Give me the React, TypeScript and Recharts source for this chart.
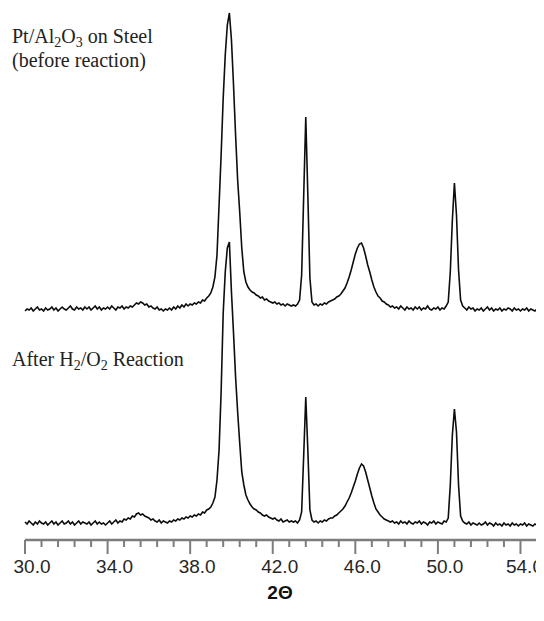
import React from 'react';
import { LineChart, Line, XAxis, YAxis } from 'recharts';

// XRD scan grid (2-theta), uniform 0.1 degree steps from 30.0 to 54.8
const SCAN_START = 30.0;
const SCAN_STEP = 0.1;

// Upper trace: Pt/Al2O3 on Steel (before reaction), offset intensity (a.u.)
const topTrace = [
  229, 231, 230, 232, 229, 231, 233, 230, 231, 229,
  232, 230, 231, 233, 230, 232, 229, 231, 233, 231,
  230, 232, 234, 231, 230, 233, 231, 232, 230, 233,
  231, 233, 230, 232, 234, 231, 233, 230, 232, 231,
  233, 231, 234, 232, 230, 233, 232, 234, 231, 233,
  232, 234, 233, 235, 237, 236, 238, 237, 235, 236,
  233, 234, 232, 231, 233, 230, 231, 229, 231, 230,
  232, 230, 233, 231, 234, 232, 235, 233, 236, 234,
  236, 235, 237, 236, 238, 237, 240, 239, 242, 244,
  247, 253, 263, 285, 335, 385, 442, 485, 515, 527,
  500, 455, 405, 360, 328, 292, 268, 258, 253, 250,
  248, 247, 245, 244, 242, 243, 240, 241, 239, 238,
  237, 238, 236, 237, 235, 236, 234, 236, 235, 234,
  235, 234, 236, 240, 265, 345, 423, 345, 262, 238,
  235, 236, 234, 236, 235, 237, 236, 238, 239, 240,
  241, 243, 244, 246, 249, 252, 257, 263, 270, 278,
  286, 292, 296, 297, 292, 284, 275, 268, 260, 253,
  248, 244, 242, 239, 238, 236, 235, 233, 234, 232,
  233, 231, 234, 232, 230, 233, 231, 232, 230, 233,
  231, 233, 230, 232, 231, 234, 231, 230, 232, 231,
  233, 230, 232, 231, 234, 238, 268, 320, 357, 325,
  270, 240, 234, 232, 230, 233, 231, 232, 229, 231,
  230, 232, 229, 231, 233, 230, 232, 229, 231, 230,
  232, 229, 231, 230, 232, 231, 229, 232, 230, 231,
  229, 231, 230, 232, 229, 231, 230, 229, 231,
];

// Lower trace: After H2/O2 reaction, intensity (a.u.)
const bottomTrace = [
  18, 16, 19, 17, 15, 18, 16, 19, 17, 16,
  18, 15, 17, 19, 16, 18, 15, 17, 19, 16,
  17, 19, 16, 18, 15, 17, 19, 16, 18, 17,
  16, 18, 15, 17, 19, 16, 18, 16, 17, 15,
  17, 19, 16, 18, 20, 17, 19, 18, 21, 20,
  22, 21, 24, 23, 26, 27, 25, 26, 24, 23,
  22, 20, 21, 19, 18, 20, 17, 19, 18, 17,
  19, 18, 20, 19, 21, 20, 22, 21, 23, 22,
  24, 23, 25, 24, 26, 25, 28, 27, 30, 31,
  33, 37, 43, 60, 90, 148, 227, 268, 292, 298,
  248, 207, 163, 128, 97, 68, 55, 45, 40, 36,
  33, 31, 30, 28, 27, 25, 24, 25, 23, 22,
  21, 22, 20, 19, 21, 18, 19, 20, 18, 19,
  18, 19, 17, 20, 28, 85, 143, 90, 30, 20,
  18, 19, 17, 19, 18, 20, 19, 21, 22, 22,
  24, 25, 27, 29, 31, 34, 38, 42, 47, 53,
  59, 66, 72, 76, 74, 68, 60, 52, 44, 37,
  31, 28, 25, 23, 21, 20, 19, 18, 19, 17,
  18, 16, 19, 17, 18, 16, 19, 17, 16, 18,
  17, 19, 16, 18, 17, 15, 18, 17, 19, 16,
  18, 17, 16, 19, 18, 22, 55, 105, 131, 108,
  55, 24, 19, 17, 16, 18, 15, 17, 16, 15,
  17, 15, 16, 18, 15, 17, 16, 14, 17, 15,
  16, 14, 17, 15, 16, 14, 17, 15, 16, 14,
  16, 15, 17, 14, 16, 15, 14, 16, 15,
];

// Axis ticks: major labelled every 4.0, minor every 0.8
const axisTicks = [
  30, 30.8, 31.6, 32.4, 33.2, 34, 34.8, 35.6, 36.4, 37.2, 38, 38.8, 39.6, 40.4,
  41.2, 42, 42.8, 43.6, 44.4, 45.2, 46, 46.8, 47.6, 48.4, 49.2, 50, 50.8, 51.6,
  52.4, 53.2, 54, 54.8,
];
const majorTicks = [30, 34, 38, 42, 46, 50, 54];

const data = topTrace.map((t, i) => ({
  x: Math.round((SCAN_START + i * SCAN_STEP) * 10) / 10,
  top: t,
  bottom: bottomTrace[i],
}));

const AXIS_COLOR = '#7d7d7d';

const TickMark = (props: any) => {
  const { x, y, payload } = props;
  const v = payload.value;
  const isMajor = majorTicks.some((m) => Math.abs(m - v) < 1e-6);
  return (
    <g>
      <line
        x1={x}
        y1={y}
        x2={x}
        y2={y + (isMajor ? 14 : 7)}
        stroke={AXIS_COLOR}
        strokeWidth={2}
      />
      {isMajor && (
        <text
          x={x + (v >= 54 ? 4 : 7)}
          y={y + 33}
          textAnchor="middle"
          fontFamily="'Liberation Sans', Arial, sans-serif"
          fontSize={19}
          fill="#262626"
        >
          {Number(v).toFixed(1)}
        </text>
      )}
    </g>
  );
};

const serif = "'Liberation Serif', 'Times New Roman', serif";

export default function App() {
  return (
    <div style={{ position: 'relative', width: 528, height: 596, overflow: 'visible' }}>
      <style>{`.recharts-surface { overflow: visible; } html, body { overflow: hidden; }`}</style>
      <LineChart
        width={536}
        height={596}
        data={data}
        margin={{ top: 2, right: 7, bottom: 0, left: 17 }}
      >
        <XAxis
          dataKey="x"
          type="number"
          domain={[30, 54.8]}
          ticks={axisTicks}
          interval={0}
          tickSize={0}
          tickMargin={0}
          tickLine={false}
          axisLine={{ stroke: AXIS_COLOR, strokeWidth: 2.5 }}
          tick={<TickMark />}
          height={64}
        />
        <YAxis hide domain={[0, 530]} />
        <Line
          dataKey="top"
          type="linear"
          stroke="#0d0d0d"
          strokeWidth={1.6}
          dot={false}
          isAnimationActive={false}
        />
        <Line
          dataKey="bottom"
          type="linear"
          stroke="#0d0d0d"
          strokeWidth={1.6}
          dot={false}
          isAnimationActive={false}
        />
      </LineChart>
      <svg
        width={528}
        height={596}
        style={{ position: 'absolute', left: 0, top: 0, pointerEvents: 'none', overflow: 'visible' }}
      >
        <text x={4} y={35} fontFamily={serif} fontSize={20} fill="#222">
          Pt/Al<tspan dy={4} fontSize={14}>2</tspan>
          <tspan dy={-4}>O</tspan>
          <tspan dy={4} fontSize={14}>3</tspan>
          <tspan dy={-4}> on Steel</tspan>
        </text>
        <text x={4} y={59} fontFamily={serif} fontSize={20} fill="#222">
          (before reaction)
        </text>
        <text x={4} y={358} fontFamily={serif} fontSize={20} fill="#222">
          After H<tspan dy={4} fontSize={14}>2</tspan>
          <tspan dy={-4}>/O</tspan>
          <tspan dy={4} fontSize={14}>2</tspan>
          <tspan dy={-4}> Reaction</tspan>
        </text>
        <text
          x={272}
          y={591}
          textAnchor="middle"
          fontFamily="'Liberation Sans', Arial, sans-serif"
          fontWeight="bold"
          fontSize={19}
          fill="#111"
        >
          2Θ
        </text>
      </svg>
    </div>
  );
}
